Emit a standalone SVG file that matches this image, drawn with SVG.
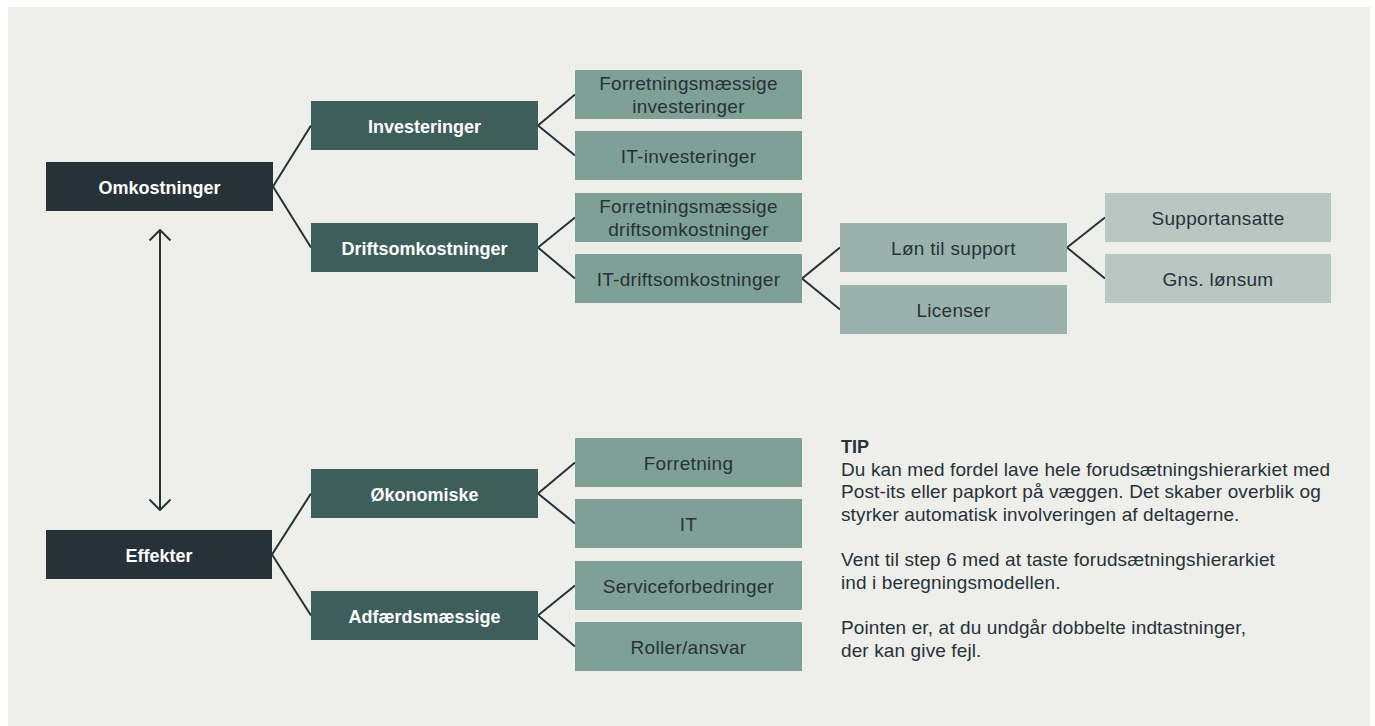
<svg xmlns="http://www.w3.org/2000/svg" width="1375" height="726" viewBox="0 0 1375 726">
<style>
.l1{fill:#263238}
.l2{fill:#3d5e5b}
.l3{fill:#7fa096}
.l4{fill:#9bb2ac}
.l5{fill:#b9c7c3}
.tb{font-family:"Liberation Sans",Arial,sans-serif;font-size:18px;font-weight:bold;fill:#ffffff;text-anchor:middle}
.tr{font-family:"Liberation Sans",Arial,sans-serif;font-size:19px;fill:#263238;text-anchor:middle;letter-spacing:0.3px}
.tip{font-family:"Liberation Sans",Arial,sans-serif;font-size:19px;fill:#263238;letter-spacing:0.12px}
.tiph{font-family:"Liberation Sans",Arial,sans-serif;font-size:18px;font-weight:bold;fill:#263238}
.con{stroke:#263238;stroke-width:2;fill:none}
</style>
<defs>
<marker id="chev" viewBox="0 0 12 22" refX="11" refY="11" markerWidth="12" markerHeight="22" markerUnits="userSpaceOnUse" orient="auto-start-reverse">
<path d="M0.5,0.5 L11,11 L0.5,21.5" fill="none" stroke="#263238" stroke-width="2"/>
</marker>
</defs>
<rect x="8" y="7" width="1362" height="719" fill="#eeeeea"/>
<g id="connectors" class="con">
<path d="M273,186.5 L311,125.5 M273,186.5 L311,247.5"/>
<path d="M538,125.5 L575,94.5 M538,125.5 L575,155.5"/>
<path d="M538,247.5 L575,217.5 M538,247.5 L575,278.5"/>
<path d="M802,278.5 L840,247.5 M802,278.5 L840,309.5"/>
<path d="M1067,247.5 L1105,217.5 M1067,247.5 L1105,278.5"/>
<path d="M272,554.5 L311,493.5 M272,554.5 L311,615.5"/>
<path d="M538,493.5 L575,462.5 M538,493.5 L575,523.5"/>
<path d="M538,615.5 L575,585.5 M538,615.5 L575,646.5"/>
<line x1="160" y1="230" x2="160" y2="510" marker-start="url(#chev)" marker-end="url(#chev)"/>
</g>
<g id="omkostninger"><rect class="l1" x="46" y="162" width="227" height="49"/><text class="tb" x="159.5" y="194">Omkostninger</text></g>
<g id="investeringer"><rect class="l2" x="311" y="101" width="227" height="49"/><text class="tb" x="424.5" y="133">Investeringer</text></g>
<g id="driftsomkostninger"><rect class="l2" x="311" y="223" width="227" height="49"/><text class="tb" x="424.5" y="255">Driftsomkostninger</text></g>
<g id="forr-inv"><rect class="l3" x="575" y="70" width="227" height="49"/><text class="tr" x="688.5" y="90">Forretningsmæssige</text><text class="tr" x="688.5" y="112.5">investeringer</text></g>
<g id="it-inv"><rect class="l3" x="575" y="131" width="227" height="49"/><text class="tr" x="688.5" y="163">IT-investeringer</text></g>
<g id="forr-drift"><rect class="l3" x="575" y="193" width="227" height="49"/><text class="tr" x="688.5" y="213">Forretningsmæssige</text><text class="tr" x="688.5" y="235.5">driftsomkostninger</text></g>
<g id="it-drift"><rect class="l3" x="575" y="254" width="227" height="49"/><text class="tr" x="688.5" y="286">IT-driftsomkostninger</text></g>
<g id="loen"><rect class="l4" x="840" y="223" width="227" height="49"/><text class="tr" x="953.5" y="255">Løn til support</text></g>
<g id="licenser"><rect class="l4" x="840" y="285" width="227" height="49"/><text class="tr" x="953.5" y="317">Licenser</text></g>
<g id="supportansatte"><rect class="l5" x="1105" y="193" width="226" height="49"/><text class="tr" x="1218" y="225">Supportansatte</text></g>
<g id="gns"><rect class="l5" x="1105" y="254" width="226" height="49"/><text class="tr" x="1218" y="286">Gns. lønsum</text></g>
<g id="effekter"><rect class="l1" x="46" y="530" width="226" height="49"/><text class="tb" x="159" y="562">Effekter</text></g>
<g id="oekonomiske"><rect class="l2" x="311" y="469" width="227" height="49"/><text class="tb" x="424.5" y="501">Økonomiske</text></g>
<g id="adfaerd"><rect class="l2" x="311" y="591" width="227" height="49"/><text class="tb" x="424.5" y="623">Adfærdsmæssige</text></g>
<g id="forretning"><rect class="l3" x="575" y="438" width="227" height="49"/><text class="tr" x="688.5" y="470">Forretning</text></g>
<g id="it"><rect class="l3" x="575" y="499" width="227" height="49"/><text class="tr" x="688.5" y="531">IT</text></g>
<g id="service"><rect class="l3" x="575" y="561" width="227" height="49"/><text class="tr" x="688.5" y="593">Serviceforbedringer</text></g>
<g id="roller"><rect class="l3" x="575" y="622" width="227" height="49"/><text class="tr" x="688.5" y="654">Roller/ansvar</text></g>
<g id="tip">
<text class="tiph" x="841" y="453">TIP</text>
<text class="tip" x="841" y="475.7">Du kan med fordel lave hele forudsætningshierarkiet med</text>
<text class="tip" x="841" y="498.3">Post-its eller papkort på væggen. Det skaber overblik og</text>
<text class="tip" x="841" y="520.9">styrker automatisk involveringen af deltagerne.</text>
<text class="tip" x="841" y="566.2">Vent til step 6 med at taste forudsætningshierarkiet</text>
<text class="tip" x="841" y="588.8">ind i beregningsmodellen.</text>
<text class="tip" x="841" y="634.4">Pointen er, at du undgår dobbelte indtastninger,</text>
<text class="tip" x="841" y="657">der kan give fejl.</text>
</g>
</svg>
